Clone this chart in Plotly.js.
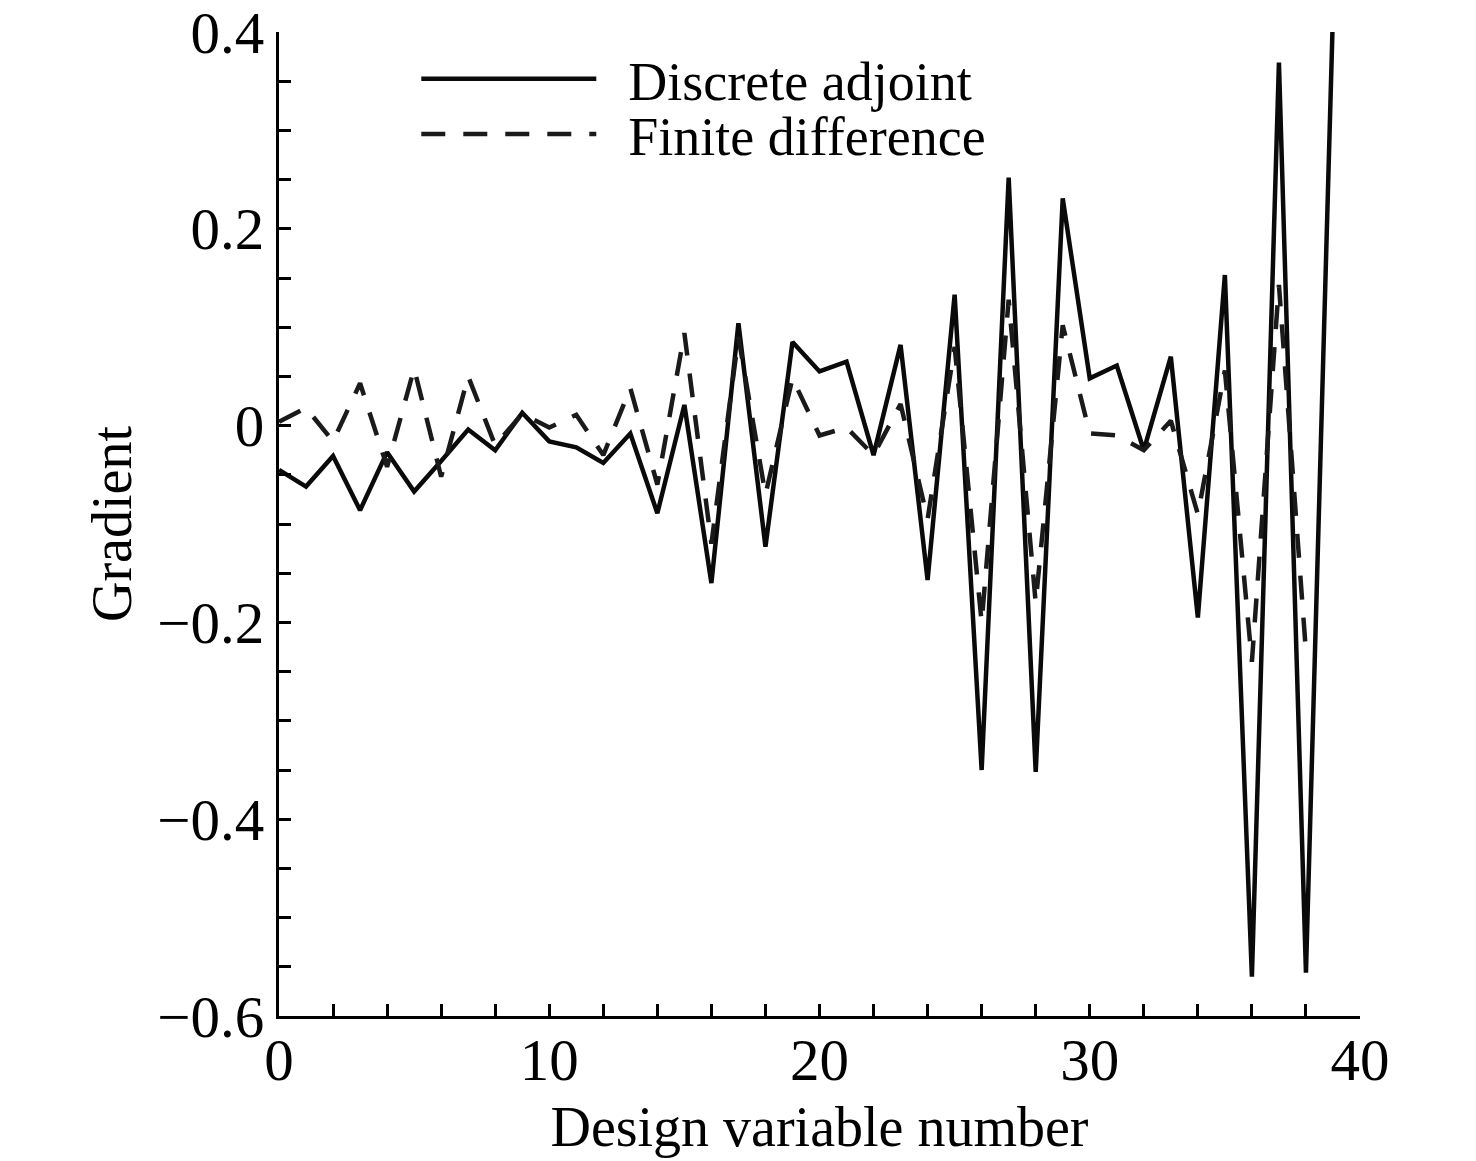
<!DOCTYPE html>
<html>
<head>
<meta charset="utf-8">
<script src="https://cdn.plot.ly/plotly-3.0.1.min.js"></script>
<style>
  html, body { margin: 0; padding: 0; background: #fff; }
  #chart { width: 1476px; height: 1161px; }
</style>
</head>
<body>
<div id="chart"></div>
<script>
// design variable numbers
var designVars = [];
for (var i = 0; i < 40; i++) designVars.push(i);

// gradient values
var adjointGrad = [
  -0.045, -0.062, -0.031, -0.086, -0.027, -0.067, -0.036, -0.004, -0.025, 0.013,
  -0.016, -0.022, -0.038, -0.008, -0.089, 0.021, -0.160, 0.104, -0.123, 0.085,
  0.055, 0.065, -0.030, 0.082, -0.157, 0.133, -0.350, 0.252, -0.352, 0.231,
  0.048, 0.061, -0.025, 0.070, -0.195, 0.153, -0.560, 0.369, -0.556, 0.420
];
var finiteDiffGrad = [
  0.004, 0.018, -0.016, 0.043, -0.042, 0.058, -0.052, 0.050, -0.020, 0.012,
  -0.002, 0.011, -0.030, 0.038, -0.060, 0.094, -0.120, 0.090, -0.070, 0.048,
  -0.010, -0.002, -0.030, 0.022, -0.095, 0.080, -0.200, 0.128, -0.180, 0.102,
  -0.008, -0.010, -0.025, 0.005, -0.090, 0.056, -0.240, 0.143, -0.230
];

var serif = 'Liberation Serif, Times New Roman, serif';
var gap = '\u00a0\u00a0';

var traces = [
  {
    x: designVars,
    y: adjointGrad,
    name: gap + 'Discrete adjoint',
    type: 'scatter',
    mode: 'lines',
    legend: 'legend',
    line: { color: '#0a0a0a', width: 4.5 }
  },
  {
    x: designVars.slice(0, finiteDiffGrad.length),
    y: finiteDiffGrad,
    name: gap + 'Finite difference',
    type: 'scatter',
    mode: 'lines',
    legend: 'legend2',
    line: { color: '#1a1a1a', width: 4.5, dash: '24px,18px' }
  }
];

// one legend box per row so the rows can sit as close as in the source
function legendBox(yPos) {
  return {
    x: 0.127,
    y: yPos,
    xanchor: 'left',
    yanchor: 'middle',
    bgcolor: 'rgba(0,0,0,0)',
    itemwidth: 175,
    font: { family: serif, size: 54, color: '#000' }
  };
}

var layout = {
  width: 1476,
  height: 1161,
  margin: { l: 279, r: 116, t: 32, b: 145 },
  paper_bgcolor: '#fff',
  plot_bgcolor: '#fff',
  font: { family: serif, size: 59, color: '#000' },
  showlegend: true,
  legend: legendBox(0.952),
  legend2: legendBox(0.896),
  xaxis: {
    range: [0, 40],
    dtick: 10,
    tick0: 0,
    ticks: 'inside',
    ticklen: 12,
    tickwidth: 3,
    tickcolor: '#000',
    tickfont: { family: serif, size: 59 },
    ticklabelstandoff: -10,
    ticklabeloverflow: 'allow',
    showline: true,
    linecolor: '#000',
    linewidth: 3,
    showgrid: false,
    zeroline: false,
    minor: { dtick: 2, ticks: 'inside', ticklen: 12, tickwidth: 3, tickcolor: '#000', showgrid: false },
    title: { text: 'Design variable number', font: { family: serif, size: 56 }, standoff: 16 }
  },
  yaxis: {
    range: [-0.6, 0.4],
    dtick: 0.2,
    tick0: 0,
    ticks: 'inside',
    ticklen: 12,
    tickwidth: 3,
    tickcolor: '#000',
    tickfont: { family: serif, size: 59 },
    ticklabeloverflow: 'allow',
    showline: true,
    linecolor: '#000',
    linewidth: 3,
    showgrid: false,
    zeroline: false,
    minor: { dtick: 0.05, ticks: 'inside', ticklen: 12, tickwidth: 3, tickcolor: '#000', showgrid: false },
    title: { text: 'Gradient', font: { family: serif, size: 56 }, standoff: 8 }
  }
};

Plotly.newPlot('chart', traces, layout, { staticPlot: true });
</script>
</body>
</html>
